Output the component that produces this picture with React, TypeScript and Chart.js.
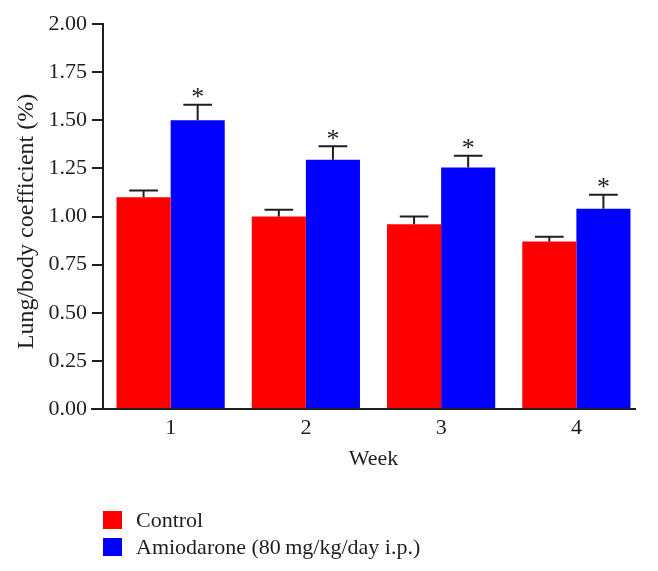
import React, { useEffect, useRef } from 'react';
import { Chart, registerables } from 'chart.js';

Chart.register(...registerables);

const categories = ['1', '2', '3', '4'];
const seriesLabels = ['Control', 'Amiodarone (80\u2009mg/kg/day i.p.)'];
const seriesColors = ['#ff0000', '#0000ff'];
const controlValues = [1.1, 1.0, 0.96, 0.87];
const controlErrors = [0.035, 0.035, 0.04, 0.025];
const amioValues = [1.5, 1.295, 1.255, 1.04];
const amioErrors = [0.08, 0.07, 0.06, 0.073];
const controlSignificant = [false, false, false, false];
const amioSignificant = [true, true, true, true];
const yMin = 0;
const yMax = 2;
const yStep = 0.25;
const xTitle = 'Week';
const yTitle = 'Lung/body coefficient (%)';

const FONT = '"Liberation Serif", "Times New Roman", serif';
const INK = '#1e1e1e';

const errorBarPlugin = {
  id: 'errorBars',
  afterDatasetsDraw(chart: any) {
    const ctx = chart.ctx;
    const y = chart.scales.y;
    chart.data.datasets.forEach((ds: any, i: number) => {
      const meta = chart.getDatasetMeta(i);
      meta.data.forEach((bar: any, j: number) => {
        const v = ds.data[j];
        const e = ds.errors[j];
        const top = y.getPixelForValue(v + e);
        const half = bar.width * 0.265;
        ctx.save();
        ctx.strokeStyle = INK;
        ctx.lineWidth = 2;
        ctx.beginPath();
        ctx.moveTo(bar.x, bar.y);
        ctx.lineTo(bar.x, top);
        ctx.moveTo(bar.x - half, top);
        ctx.lineTo(bar.x + half, top);
        ctx.stroke();
        if (ds.significant && ds.significant[j]) {
          ctx.fillStyle = INK;
          ctx.font = '26px ' + FONT;
          ctx.textAlign = 'center';
          ctx.textBaseline = 'alphabetic';
          ctx.fillText('*', bar.x, top + 0.5);
        }
        ctx.restore();
      });
    });
  },
};

const axisDecorPlugin = {
  id: 'axisDecor',
  afterDraw(chart: any) {
    const { ctx, chartArea } = chart;
    const yPix = chart.scales.y.getPixelForValue(yMin);
    ctx.save();
    ctx.strokeStyle = INK;
    ctx.lineWidth = 2;
    ctx.beginPath();
    ctx.moveTo(chartArea.left - 12, yPix);
    ctx.lineTo(chartArea.right - 8, yPix);
    ctx.stroke();
    // y-axis title
    ctx.fillStyle = INK;
    ctx.font = '24px ' + FONT;
    ctx.textAlign = 'center';
    ctx.textBaseline = 'middle';
    ctx.translate(27, (chartArea.top + chartArea.bottom) / 2 + 5);
    ctx.rotate(-Math.PI / 2);
    ctx.fillText(yTitle, 0, 0);
    ctx.restore();
  },
};

export default function App() {
  const canvasRef = useRef<HTMLCanvasElement | null>(null);

  useEffect(() => {
    if (!canvasRef.current) return;
    const chart = new Chart(canvasRef.current, {
      type: 'bar',
      data: {
        labels: categories,
        datasets: [
          {
            label: seriesLabels[0],
            data: controlValues,
            errors: controlErrors,
            significant: controlSignificant,
            backgroundColor: seriesColors[0],
            borderWidth: 0,
          } as any,
          {
            label: seriesLabels[1],
            data: amioValues,
            errors: amioErrors,
            significant: amioSignificant,
            backgroundColor: seriesColors[1],
            borderWidth: 0,
          } as any,
        ],
      },
      options: {
        responsive: false,
        animation: false,
        devicePixelRatio: 1,
        layout: { padding: { top: 24, right: 14, bottom: 80, left: 0 } },
        datasets: { bar: { categoryPercentage: 0.8, barPercentage: 1 } },
        plugins: {
          legend: { display: false },
          tooltip: { enabled: false },
        },
        scales: {
          x: {
            grid: { display: false, drawTicks: false },
            border: { display: false },
            ticks: { color: INK, font: { family: FONT, size: 22 }, padding: 6 },
            title: {
              display: true,
              text: xTitle,
              color: INK,
              font: { family: FONT, size: 22 },
              padding: { top: 0, bottom: 19 },
            },
            afterFit: (s: any) => {
              s.height = 82;
            },
          },
          y: {
            min: yMin,
            max: yMax,
            grid: {
              drawOnChartArea: false,
              drawTicks: true,
              tickLength: 11,
              color: INK,
              lineWidth: 2,
            },
            border: { display: true, color: INK, width: 2 },
            ticks: {
              stepSize: yStep,
              color: INK,
              font: { family: FONT, size: 22 },
              padding: 5,
              callback: (v: any) => Number(v).toFixed(2),
            },
            title: { display: false },
            afterFit: (s: any) => {
              s.width = 103;
            },
          },
        },
      },
      plugins: [errorBarPlugin, axisDecorPlugin],
    });
    return () => chart.destroy();
  }, []);

  const legendTops = [508, 535];
  return (
    <div style={{ position: 'absolute', left: 0, top: 0, width: 658, height: 571, background: '#fff' }}>
      <canvas ref={canvasRef} width={658} height={571} style={{ width: 658, height: 571, display: 'block' }} />
      {seriesLabels.map((label, i) => (
        <div
          key={label}
          style={{
            position: 'absolute',
            left: 103,
            top: legendTops[i],
            height: 24,
            display: 'flex',
            alignItems: 'center',
            fontFamily: FONT,
            fontSize: 22,
            color: INK,
            whiteSpace: 'nowrap',
          }}
        >
          <span style={{ display: 'inline-block', width: 19, height: 18, background: seriesColors[i], marginRight: 14 }} />
          <span>{label}</span>
        </div>
      ))}
    </div>
  );
}
